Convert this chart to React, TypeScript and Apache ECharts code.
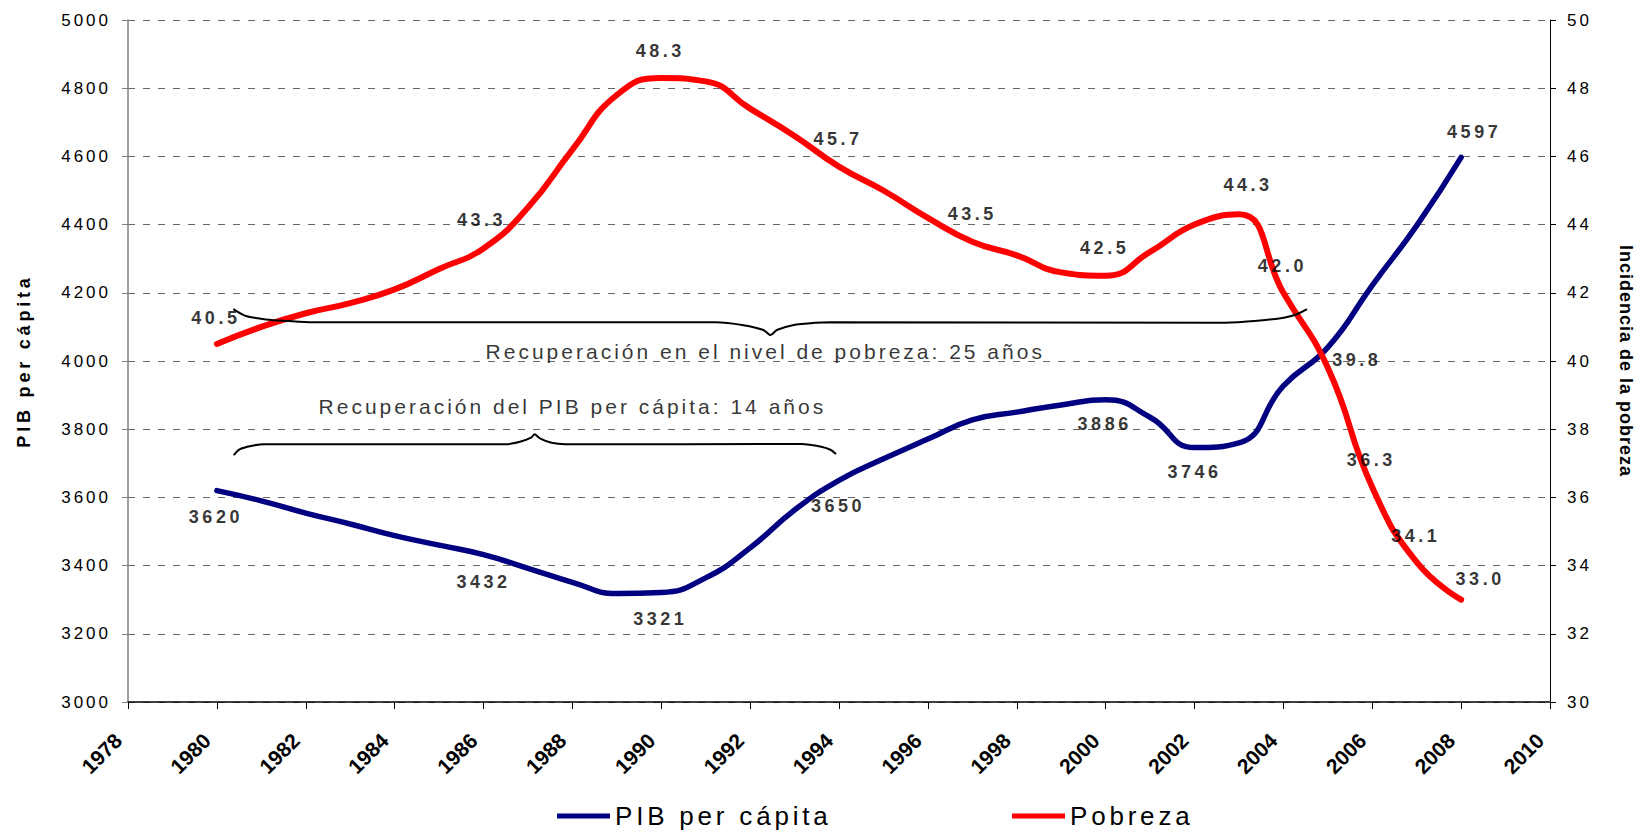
import React, { useEffect, useRef } from "react";
import * as echarts from "echarts";

// ---------- DATA ----------
const years = [
  1980, 1981, 1982, 1983, 1984, 1985, 1986, 1987, 1988, 1989, 1990, 1991, 1992, 1993, 1994,
  1995, 1996, 1997, 1998, 1999, 2000, 2001, 2002, 2003, 2004, 2005, 2006, 2007, 2008,
];
const pibPerCapita = [
  3620, 3590, 3554, 3522, 3488, 3460, 3432, 3392, 3351, 3318, 3321, 3364, 3452, 3563, 3650,
  3713, 3771, 3827, 3850, 3871, 3886, 3835, 3746, 3760, 3927, 4040, 4222, 4397, 4597,
];
const pobreza = [
  40.5, 41.0, 41.4, 41.7, 42.1, 42.7, 43.3, 44.5, 46.2, 47.8, 48.3, 48.2, 47.4, 46.6, 45.7,
  45.0, 44.2, 43.5, 43.1, 42.6, 42.5, 43.2, 44.0, 44.3, 42.0, 39.8, 36.3, 34.1, 33.0,
];
const pibLabelYears = [1980, 1986, 1990, 1994, 2000, 2002, 2008];
const pobrezaLabelYears = [1980, 1986, 1990, 1994, 1997, 2000, 2003, 2004, 2005, 2006, 2007, 2008];

const xTickLabels = ["1978", "1980", "1982", "1984", "1986", "1988", "1990", "1992", "1994", "1996", "1998", "2000", "2002", "2004", "2006", "2008", "2010"];
const leftTickLabels = ["3000", "3200", "3400", "3600", "3800", "4000", "4200", "4400", "4600", "4800", "5000"];
const rightTickLabels = ["30", "32", "34", "36", "38", "40", "42", "44", "46", "48", "50"];

const seriesNames = ["PIB per cápita", "Pobreza"];
const axisTitles = ["PIB per cápita", "Incidencia de la pobreza"];

// Annotation braces, in data space [year, PIB per cápita]
const braceUpper = [
  [1980.37, 4152], [1980.65, 4132], [1981.1, 4122], [1981.62, 4117], [1982.14, 4113.5],
  [1991.22, 4113.5], [1991.85, 4105], [1992.3, 4091], [1992.46, 4076], [1992.6, 4091],
  [1992.96, 4105], [1993.47, 4112], [1993.79, 4113.5], [2002.68, 4112.5], [2003.42, 4118],
  [2004.01, 4127], [2004.32, 4138], [2004.53, 4152],
];
const braceLower = [
  [1980.38, 3724], [1980.51, 3741], [1980.77, 3751], [1981.07, 3755.7], [1986.5, 3755.7],
  [1986.82, 3763], [1987.07, 3775], [1987.15, 3785], [1987.27, 3773], [1987.53, 3760],
  [1987.84, 3755.7], [1993.15, 3756.6], [1993.6, 3748.7], [1993.82, 3739], [1993.93, 3727],
];
const annotationTexts = [
  { text: "Recuperación en el nivel de pobreza: 25 años", at: [1992.34, 4027] },
  { text: "Recuperación del PIB per cápita: 14 años", at: [1988.0, 3868] },
];

// ---------- STYLE ----------
const FONT = "'Liberation Sans', Arial, Helvetica, sans-serif";
const BLUE = "#000080";
const RED = "#ff0000";
const pibLabelOffsets: Record<number, [number, number]> = {
  1980: [-1, 26], 1986: [0, 27], 1990: [-1, 26], 1994: [-1, 26], 2000: [-1, 24], 2002: [0, 24], 2008: [13, -25],
};
const pobrezaLabelOffsets: Record<number, [number, number]> = {
  1980: [-1, -26], 1986: [-2, -28], 1990: [-1, -27], 1994: [-1, -28], 1997: [0, -28], 2000: [-1, -28],
  2003: [9, -29], 2004: [-1, -27], 2005: [29, -8], 2006: [-1, -27], 2007: [-1, -26], 2008: [19, -21],
};

const plain = (v: number) => String(v);

function letterSpacingFor(s: string): number {
  if (xTickLabels.includes(s)) return 0;
  if (axisTitles.includes(s) && s !== "PIB per cápita") return 1;
  if (seriesNames.includes(s)) return 3.8;
  if (s.startsWith("Recuperación")) return 3;
  if (leftTickLabels.includes(s) || rightTickLabels.includes(s)) return 3;
  return 3.5;
}

export default function App() {
  const ref = useRef<HTMLDivElement>(null);

  useEffect(() => {
    const el = ref.current!;
    const chart = echarts.init(el, undefined, { renderer: "svg" });

    const pibLabelData = pibLabelYears.map((y) => ({
      value: [y, pibPerCapita[years.indexOf(y)]],
      label: { offset: pibLabelOffsets[y] },
    }));
    const pobrezaLabelData = pobrezaLabelYears.map((y) => ({
      value: [y, pobreza[years.indexOf(y)]],
      label: { offset: pobrezaLabelOffsets[y] },
    }));

    const dataLabel = {
      show: true,
      position: "inside",
      fontSize: 18,
      fontWeight: "bold",
      color: "#000",
      fontFamily: FONT,
      formatter: (p: any) => {
        const v = p.value[1];
        return p.seriesName === "Pobreza labels" ? v.toFixed(1) : String(v);
      },
    };

    const legendCommon = {
      top: 803,
      padding: 0,
      itemWidth: 53,
      itemHeight: 5,
      icon: "rect",
      selectedMode: false,
      textStyle: { fontSize: 26, color: "#000", fontFamily: FONT },
    };

    const option: any = {
      animation: false,
      backgroundColor: "#ffffff",
      textStyle: { fontFamily: FONT },
      grid: { left: 128, right: 82, top: 20, bottom: 131, containLabel: false },
      legend: [
        { ...legendCommon, data: [seriesNames[0]], left: 557 },
        { ...legendCommon, data: [seriesNames[1]], left: 1012 },
      ],
      xAxis: {
        type: "value",
        min: 1978,
        max: 2010,
        interval: 2,
        axisLine: { show: true, onZero: false, lineStyle: { color: "#000", width: 1.5 } },
        axisTick: { show: true, length: 7, lineStyle: { color: "#000", width: 1 } },
        axisLabel: {
          rotate: 45,
          margin: 25,
          padding: [0, 14, 0, 0],
          fontSize: 21,
          fontWeight: "bold",
          color: "#000",
          fontFamily: FONT,
          formatter: plain,
        },
        splitLine: { show: false },
      },
      yAxis: [
        {
          type: "value",
          min: 3000,
          max: 5000,
          interval: 200,
          position: "left",
          name: axisTitles[0],
          nameLocation: "middle",
          nameRotate: 90,
          nameGap: 95,
          nameTextStyle: { fontSize: 18, fontWeight: "bold", color: "#000", fontFamily: FONT },
          axisLine: { show: true, lineStyle: { color: "#808080", width: 1.5 } },
          axisTick: { show: true, length: 6, lineStyle: { color: "#808080" } },
          axisLabel: { margin: 17, fontSize: 17, color: "#000", fontFamily: FONT, formatter: plain },
          splitLine: { show: true, lineStyle: { color: "#666666", type: [7, 8], width: 1 } },
        },
        {
          type: "value",
          min: 30,
          max: 50,
          interval: 2,
          position: "right",
          name: axisTitles[1],
          nameLocation: "middle",
          nameRotate: -90,
          nameGap: 67,
          nameTextStyle: { fontSize: 18, fontWeight: "bold", color: "#000", fontFamily: FONT },
          axisLine: { show: true, lineStyle: { color: "#000", width: 1 } },
          axisTick: { show: true, length: 6, lineStyle: { color: "#000" } },
          axisLabel: { margin: 17, fontSize: 17, color: "#000", fontFamily: FONT, formatter: plain },
          splitLine: { show: false },
        },
      ],
      series: [
        {
          name: seriesNames[0],
          type: "line",
          yAxisIndex: 0,
          data: years.map((y, i) => [y, pibPerCapita[i]]),
          smooth: 0.5,
          symbol: "none",
          lineStyle: { color: BLUE, width: 5.5, cap: "round", join: "round" },
          itemStyle: { color: BLUE },
          z: 3,
          silent: true,
        },
        {
          name: seriesNames[1],
          type: "line",
          yAxisIndex: 1,
          data: years.map((y, i) => [y, pobreza[i]]),
          smooth: 0.5,
          symbol: "none",
          lineStyle: { color: RED, width: 6, cap: "round", join: "round" },
          itemStyle: { color: RED },
          z: 3,
          silent: true,
        },
        {
          name: "PIB labels",
          type: "scatter",
          yAxisIndex: 0,
          symbolSize: 1,
          itemStyle: { color: "rgba(0,0,0,0)" },
          label: dataLabel,
          data: pibLabelData,
          z: 5,
          silent: true,
        },
        {
          name: "Pobreza labels",
          type: "scatter",
          yAxisIndex: 1,
          symbolSize: 1,
          itemStyle: { color: "rgba(0,0,0,0)" },
          label: dataLabel,
          data: pobrezaLabelData,
          z: 5,
          silent: true,
        },
        {
          name: "Llave pobreza",
          type: "line",
          yAxisIndex: 0,
          data: braceUpper,
          smooth: 0.25,
          symbol: "none",
          lineStyle: { color: "#000", width: 2 },
          z: 4,
          silent: true,
        },
        {
          name: "Llave PIB",
          type: "line",
          yAxisIndex: 0,
          data: braceLower,
          smooth: 0.25,
          symbol: "none",
          lineStyle: { color: "#000", width: 2 },
          z: 4,
          silent: true,
        },
        {
          name: "Anotaciones",
          type: "scatter",
          yAxisIndex: 0,
          symbolSize: 1,
          itemStyle: { color: "rgba(0,0,0,0)" },
          label: {
            show: true,
            position: "inside",
            fontSize: 21,
            color: "#000",
            fontFamily: FONT,
            formatter: (p: any) => p.name,
          },
          data: annotationTexts.map((a) => ({ name: a.text, value: a.at })),
          z: 5,
          silent: true,
        },
      ],
    };

    const applySpacing = () => {
      el.querySelectorAll("text").forEach((t) => {
        const s = (t.textContent || "").trim();
        const ls = letterSpacingFor(s);
        (t as SVGTextElement).style.letterSpacing = ls + "px";
      });
    };

    chart.on("finished", applySpacing);
    chart.setOption(option);
    try {
      (chart.getZr() as any).refreshImmediately();
    } catch (e) {}
    applySpacing();
    const timers = [0, 50, 200, 600].map((d) => window.setTimeout(applySpacing, d));

    return () => {
      timers.forEach((t) => window.clearTimeout(t));
      chart.dispose();
    };
  }, []);

  return (
    <div
      ref={ref}
      style={{ position: "fixed", left: 0, top: 0, width: 1643, height: 833, background: "#ffffff" }}
    />
  );
}
